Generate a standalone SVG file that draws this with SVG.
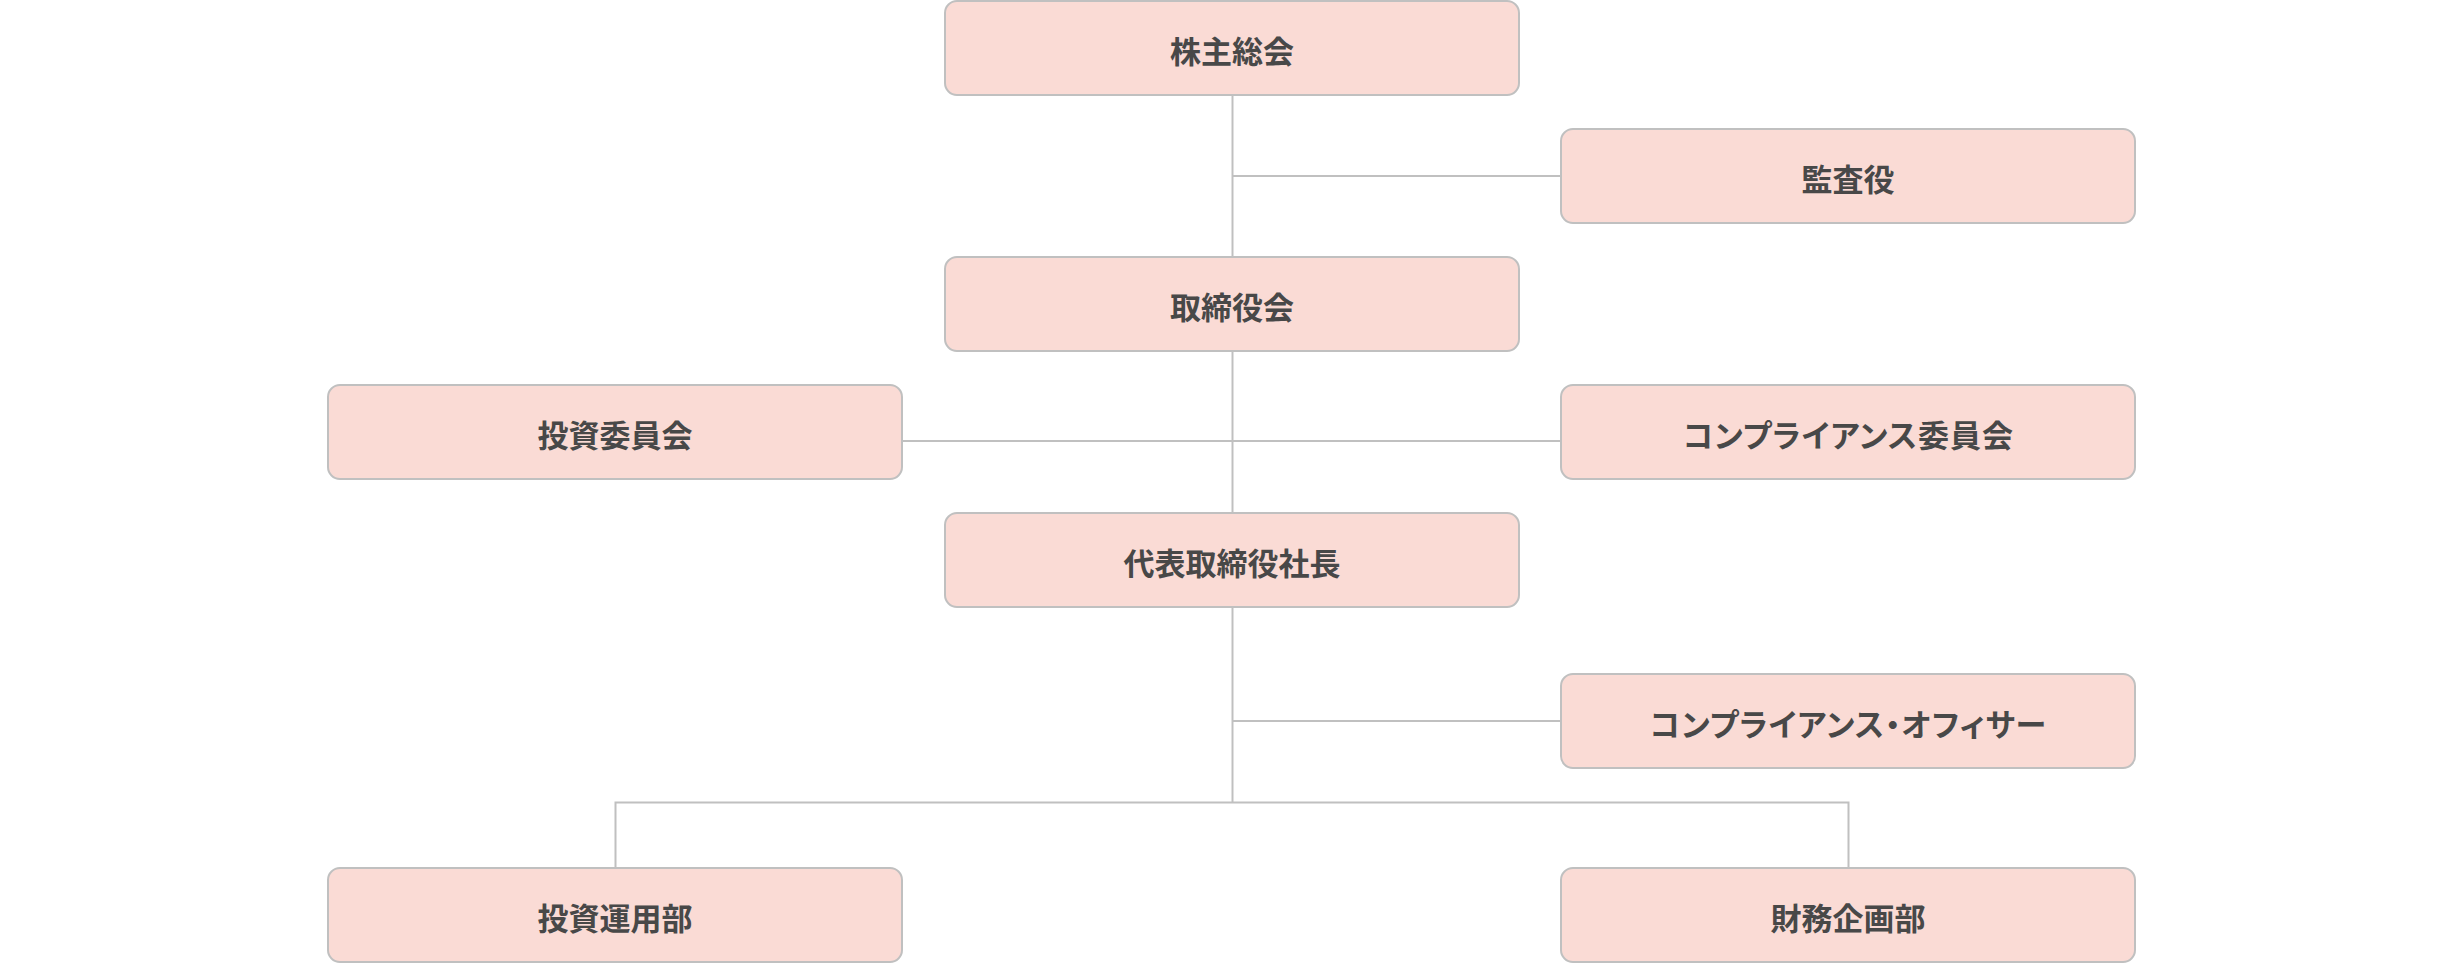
<svg xmlns="http://www.w3.org/2000/svg" width="2464" height="964" viewBox="0 0 2464 964">
<style>
.box{fill:#fadbd5;stroke:#c0c0c0;stroke-width:2}
.lbl{font-family:"Noto Sans CJK JP","Noto Sans CJK SC",sans-serif;font-weight:bold;font-size:31px;fill:#484848;text-anchor:middle;dominant-baseline:central}
.kana{font-feature-settings:"palt";letter-spacing:1px}
.ln{stroke:#c0c0c0;stroke-width:2;fill:none}
</style>
<rect width="2464" height="964" fill="#ffffff"/>
<g id="connectors">
<line class="ln" x1="1232.5" y1="95" x2="1232.5" y2="257"/>
<line class="ln" x1="1232.5" y1="176" x2="1561" y2="176"/>
<line class="ln" x1="1232.5" y1="351" x2="1232.5" y2="513"/>
<line class="ln" x1="902" y1="441" x2="1561" y2="441"/>
<line class="ln" x1="1232.5" y1="607" x2="1232.5" y2="803"/>
<line class="ln" x1="1232.5" y1="721" x2="1561" y2="721"/>
<polyline class="ln" points="615.5,868 615.5,802.5 1848.5,802.5 1848.5,868"/>
</g>
<g id="n1"><rect class="box" x="945" y="1" width="574" height="94" rx="12"/><text class="lbl" x="1232" y="49">株主総会</text></g>
<g id="n2"><rect class="box" x="1561" y="129" width="574" height="94" rx="12"/><text class="lbl" x="1848" y="177">監査役</text></g>
<g id="n3"><rect class="box" x="945" y="257" width="574" height="94" rx="12"/><text class="lbl" x="1232" y="305">取締役会</text></g>
<g id="n4"><rect class="box" x="328" y="385" width="574" height="94" rx="12"/><text class="lbl" x="615" y="433">投資委員会</text></g>
<g id="n5"><rect class="box" x="1561" y="385" width="574" height="94" rx="12"/><text class="lbl kana" x="1848.5" y="433">コンプライアンス委員会</text></g>
<g id="n6"><rect class="box" x="945" y="513" width="574" height="94" rx="12"/><text class="lbl" x="1232" y="561">代表取締役社長</text></g>
<g id="n7"><rect class="box" x="1561" y="674" width="574" height="94" rx="12"/><text class="lbl kana" x="1848.5" y="722">コンプライアンス・オフィサー</text></g>
<g id="n8"><rect class="box" x="328" y="868" width="574" height="94" rx="12"/><text class="lbl" x="615" y="916">投資運用部</text></g>
<g id="n9"><rect class="box" x="1561" y="868" width="574" height="94" rx="12"/><text class="lbl" x="1848" y="916">財務企画部</text></g>
</svg>
